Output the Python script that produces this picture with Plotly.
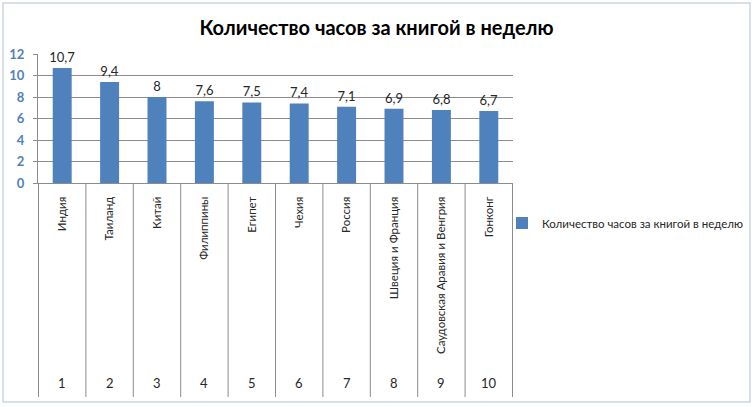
import plotly.graph_objects as go

countries = ["Индия", "Таиланд", "Китай", "Филиппины", "Египет", "Чехия",
             "Россия", "Швеция и Франция", "Саудовская Аравия и Венгрия", "Гонконг"]
ranks = ["1", "2", "3", "4", "5", "6", "7", "8", "9", "10"]
hours = [10.7, 9.4, 8, 7.6, 7.5, 7.4, 7.1, 6.9, 6.8, 6.7]
series_name = "Количество часов за книгой в неделю"
title_text = "Количество часов за книгой в неделю"
y_ticks = [0, 2, 4, 6, 8, 10, 12]

FONT = "Lato, 'Open Sans', sans-serif"
BAR = "#4F81BD"
GRID = "#8C8C8C"

W, H = 753, 407
L, R, T, B = 38, 240, 54, 224
plot_w = W - L - R
plot_h = H - T - B

def py(px):
    # pixel y (from top) -> paper y
    return (H - B - px) / plot_h

def px_(x):
    return (x - L) / plot_w

labels = [f"{v:g}".replace(".", ",") for v in hours]

fig = go.Figure()
fig.add_trace(go.Bar(
    x=countries, y=hours, name=series_name,
    marker=dict(color=BAR, line=dict(width=0)),
    text=labels, textposition="outside", cliponaxis=False, constraintext="none",
    textfont=dict(family=FONT, size=13, color="#262626"),
    showlegend=True,
))

shapes = []
n = len(countries)
for i in range(n + 1):
    shapes.append(dict(type="line", xref="x", yref="paper",
                       x0=i - 0.5, x1=i - 0.5, y0=0, y1=py(397),
                       line=dict(color=GRID, width=1)))
# chart border
shapes.append(dict(type="rect", xref="paper", yref="paper",
                   x0=px_(3), x1=px_(750), y0=py(402), y1=py(3),
                   line=dict(color="#CCD5E0", width=1.5), layer="below"))

annotations = []
for c, r in zip(countries, ranks):
    annotations.append(dict(x=c, xref="x", y=py(383), yref="paper",
                            text=r, showarrow=False, yanchor="middle",
                            font=dict(family=FONT, size=13, color="#262626")))

fig.update_layout(
    width=W, height=H,
    margin=dict(l=L, r=R, t=T, b=B, pad=0, autoexpand=False),
    paper_bgcolor="white", plot_bgcolor="white",
    font=dict(family=FONT, color="#262626"),
    title=dict(text=title_text, x=376.5 / W, xref="container", xanchor="center",
               y=1 - 28 / H, yref="container", yanchor="middle",
               font=dict(family=FONT, size=20, color="black", weight="bold")),
    bargap=0.6,
    xaxis=dict(type="category", showgrid=False, showline=True, linecolor=GRID,
               linewidth=1, ticks="", tickangle=-90, ticklabelstandoff=8,
               automargin=False,
               tickfont=dict(family=FONT, size=11.5, color="#262626"),
               fixedrange=True),
    yaxis=dict(range=[0, 12], tickvals=y_ticks, showgrid=True, gridcolor=GRID,
               gridwidth=1, showline=True, linecolor=GRID, linewidth=1,
               ticks="outside", ticklen=4, tickcolor=GRID, ticklabelstandoff=6,
               zeroline=False, automargin=False,
               tickfont=dict(family=FONT, size=13, color="#4F81BD", weight="bold")),
    legend=dict(x=px_(502), xanchor="left", y=py(223), yanchor="middle",
                yref="paper", bgcolor="rgba(0,0,0,0)",
                font=dict(family=FONT, size=11.5, color="#262626")),
    shapes=shapes, annotations=annotations,
)

fig.write_html("out.html", config={"displayModeBar": False},
               post_script="document.body.style.margin='0';document.body.style.overflow='hidden';")
